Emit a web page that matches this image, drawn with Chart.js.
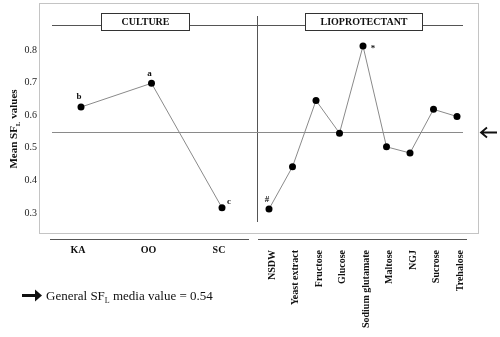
<!DOCTYPE html>
<html>
<head>
<meta charset="utf-8">
<script src="https://cdn.jsdelivr.net/npm/chart.js@4/dist/chart.umd.min.js"></script>
<style>
  html, body { margin: 0; padding: 0; background: #fff; }
  #wrap { position: relative; width: 500px; height: 337px; }
</style>
</head>
<body>
<div id="wrap"><canvas id="myChart" width="500" height="337"></canvas></div>
<script>
// values
const cultureLabels = ['KA', 'OO', 'SC'];
const cultureValues = [0.625, 0.698, 0.316];
const cultureMarks = ['b', 'a', 'c'];

const lioLabels = ['NSDW', 'Yeast extract', 'Fructose', 'Glucose', 'Sodium glutamate', 'Maltose', 'NGJ', 'Sucrose', 'Trehalose'];
const lioValues = [0.312, 0.442, 0.645, 0.545, 0.812, 0.503, 0.484, 0.618, 0.596];
const lioMarks = ['#', '', '', '', '*', '', '', '', ''];

const yTicks = [0.3, 0.4, 0.5, 0.6, 0.7, 0.8];
const generalMean = 0.549;
const legendText = ['General SF', 'L', ' media value = 0.54'];

// culture points sit 3 slots apart, lioprotectants 1 slot apart
const cultStep = 3;
const lioStart = (cultureLabels.length - 1) * cultStep + 2;
const nSlots = lioStart + lioLabels.length;

let slotLabels = new Array(nSlots).fill('');
let cultData = new Array(nSlots).fill(null);
let lioData = new Array(nSlots).fill(null);
cultureLabels.forEach((l, i) => { slotLabels[i * cultStep] = l; cultData[i * cultStep] = cultureValues[i]; });
lioLabels.forEach((l, i) => { slotLabels[lioStart + i] = l; lioData[lioStart + i] = lioValues[i]; });

const serif = '"Liberation Serif", "DejaVu Serif", serif';

function subText(ctx, parts, x, y, size, bold, align) {
  // parts: [normal, subscript, normal]
  const f1 = (bold ? 'bold ' : '') + size + 'px ' + serif;
  const f2 = (bold ? 'bold ' : '') + Math.round(size * 0.65) + 'px ' + serif;
  ctx.font = f1; let w0 = ctx.measureText(parts[0]).width; let w2 = ctx.measureText(parts[2]).width;
  ctx.font = f2; let w1 = ctx.measureText(parts[1]).width;
  let w = w0 + w1 + w2;
  let sx = align === 'center' ? x - w / 2 : x;
  ctx.textAlign = 'left';
  ctx.textBaseline = 'alphabetic';
  ctx.font = f1; ctx.fillText(parts[0], sx, y);
  ctx.font = f2; ctx.fillText(parts[1], sx + w0, y + size * 0.25);
  ctx.font = f1; ctx.fillText(parts[2], sx + w0 + w1, y);
}

const decor = {
  id: 'decor',
  beforeDatasetsDraw(chart) {
    const ctx = chart.ctx;
    const xs = chart.scales.x, ys = chart.scales.y;
    ctx.save();
    // outer frame
    ctx.strokeStyle = '#c4c4c4';
    ctx.lineWidth = 1;
    ctx.strokeRect(39.5, 3.5, 439, 230);

    ctx.strokeStyle = '#555';
    ctx.beginPath();
    // header line
    ctx.moveTo(52, 25.5); ctx.lineTo(463, 25.5);
    // divider
    ctx.moveTo(257.5, 16); ctx.lineTo(257.5, 222);
    // bottom axis lines
    ctx.moveTo(50, 239.5); ctx.lineTo(249, 239.5);
    ctx.moveTo(258, 239.5); ctx.lineTo(467, 239.5);
    ctx.stroke();

    // general mean line
    const my = Math.round(ys.getPixelForValue(generalMean)) + 0.5;
    ctx.strokeStyle = '#8a8a8a';
    ctx.beginPath(); ctx.moveTo(52, my); ctx.lineTo(463, my); ctx.stroke();

    // header boxes
    ctx.strokeStyle = '#333';
    [['CULTURE', 101, 189], ['LIOPROTECTANT', 305, 422]].forEach(b => {
      ctx.fillStyle = '#fff';
      ctx.fillRect(b[1], 13, b[2] - b[1], 17);
      ctx.strokeRect(b[1] + 0.5, 13.5, b[2] - b[1], 17);
      ctx.fillStyle = '#111';
      ctx.font = 'bold 10px ' + serif;
      ctx.textAlign = 'center'; ctx.textBaseline = 'middle';
      ctx.fillText(b[0], (b[1] + b[2]) / 2 + 0.5, 22.5);
    });

    // x labels
    ctx.fillStyle = '#111';
    ctx.font = 'bold 10px ' + serif;
    cultureLabels.forEach((l, i) => {
      ctx.textAlign = 'center'; ctx.textBaseline = 'middle';
      ctx.fillText(l, xs.getPixelForValue(i * cultStep) - 3, 250);
    });
    lioLabels.forEach((l, i) => {
      ctx.save();
      ctx.translate(xs.getPixelForValue(lioStart + i) + 3, 250);
      ctx.rotate(-Math.PI / 2);
      ctx.textAlign = 'right'; ctx.textBaseline = 'middle';
      ctx.fillText(l, 0, 0);
      ctx.restore();
    });

    // y title
    ctx.save();
    ctx.translate(17, 129);
    ctx.rotate(-Math.PI / 2);
    ctx.fillStyle = '#111';
    subText(ctx, ['Mean SF', 'L', ' values'], 0, 0, 11, true, 'center');
    ctx.restore();

    // significance marks
    ctx.font = 'bold 9px ' + serif;
    ctx.textAlign = 'center'; ctx.textBaseline = 'middle';
    cultureMarks.forEach((m, i) => {
      const px = xs.getPixelForValue(i * cultStep), py = ys.getPixelForValue(cultureValues[i]);
      if (i === cultureValues.length - 1) ctx.fillText(m, px + 7, py - 6);
      else ctx.fillText(m, px - 2, py - 10);
    });
    lioMarks.forEach((m, i) => {
      if (!m) return;
      const px = xs.getPixelForValue(lioStart + i), py = ys.getPixelForValue(lioValues[i]);
      if (m === '*') ctx.fillText(m, px + 10, py + 3);
      else ctx.fillText(m, px - 2, py - 9);
    });

    // arrow pointing at the mean line
    ctx.strokeStyle = '#111';
    ctx.lineWidth = 1.8;
    ctx.beginPath();
    ctx.moveTo(497, my); ctx.lineTo(481, my);
    ctx.moveTo(487, my - 5); ctx.lineTo(481, my); ctx.lineTo(487, my + 5);
    ctx.stroke();

    // legend arrow + text
    ctx.fillStyle = '#111';
    ctx.lineWidth = 3;
    ctx.beginPath(); ctx.moveTo(22, 295.5); ctx.lineTo(37, 295.5); ctx.stroke();
    ctx.beginPath(); ctx.moveTo(42, 295.5); ctx.lineTo(35, 289.5); ctx.lineTo(35, 301.5); ctx.closePath(); ctx.fill();
    subText(ctx, legendText, 46, 300, 13, false, 'left');
    ctx.restore();
  }
};

const ctx = document.getElementById('myChart');

new Chart(ctx, {
  type: 'line',
  data: {
    labels: slotLabels,
    datasets: [{
      label: 'Culture',
      data: cultData,
      spanGaps: true,
      clip: false,
      borderColor: '#8a8a8a',
      borderWidth: 1,
      pointRadius: 3.5,
      pointBackgroundColor: '#000',
      pointBorderColor: '#000',
      pointBorderWidth: 0
    }, {
      label: 'Lioprotectant',
      data: lioData,
      spanGaps: true,
      clip: false,
      borderColor: '#8a8a8a',
      borderWidth: 1,
      pointRadius: 3.5,
      pointBackgroundColor: '#000',
      pointBorderColor: '#000',
      pointBorderWidth: 0
    }]
  },
  options: {
    responsive: false,
    animation: false,
    layout: { padding: { top: 41, bottom: 124, left: 0, right: 43 } },
    plugins: { legend: { display: false }, tooltip: { enabled: false } },
    scales: {
      x: { type: 'category', display: false, offset: false },
      y: {
        min: 0.3, max: 0.8,
        afterFit: s => { s.width = 81; },
        afterBuildTicks: s => { s.ticks = yTicks.map(v => ({ value: v })); },
        grid: { display: false, drawTicks: false },
        border: { display: false },
        ticks: {
          padding: 44,
          color: '#222',
          font: { family: serif, size: 10 },
          callback: v => v.toFixed(1)
        }
      }
    }
  },
  plugins: [decor]
});
</script>
</body>
</html>
